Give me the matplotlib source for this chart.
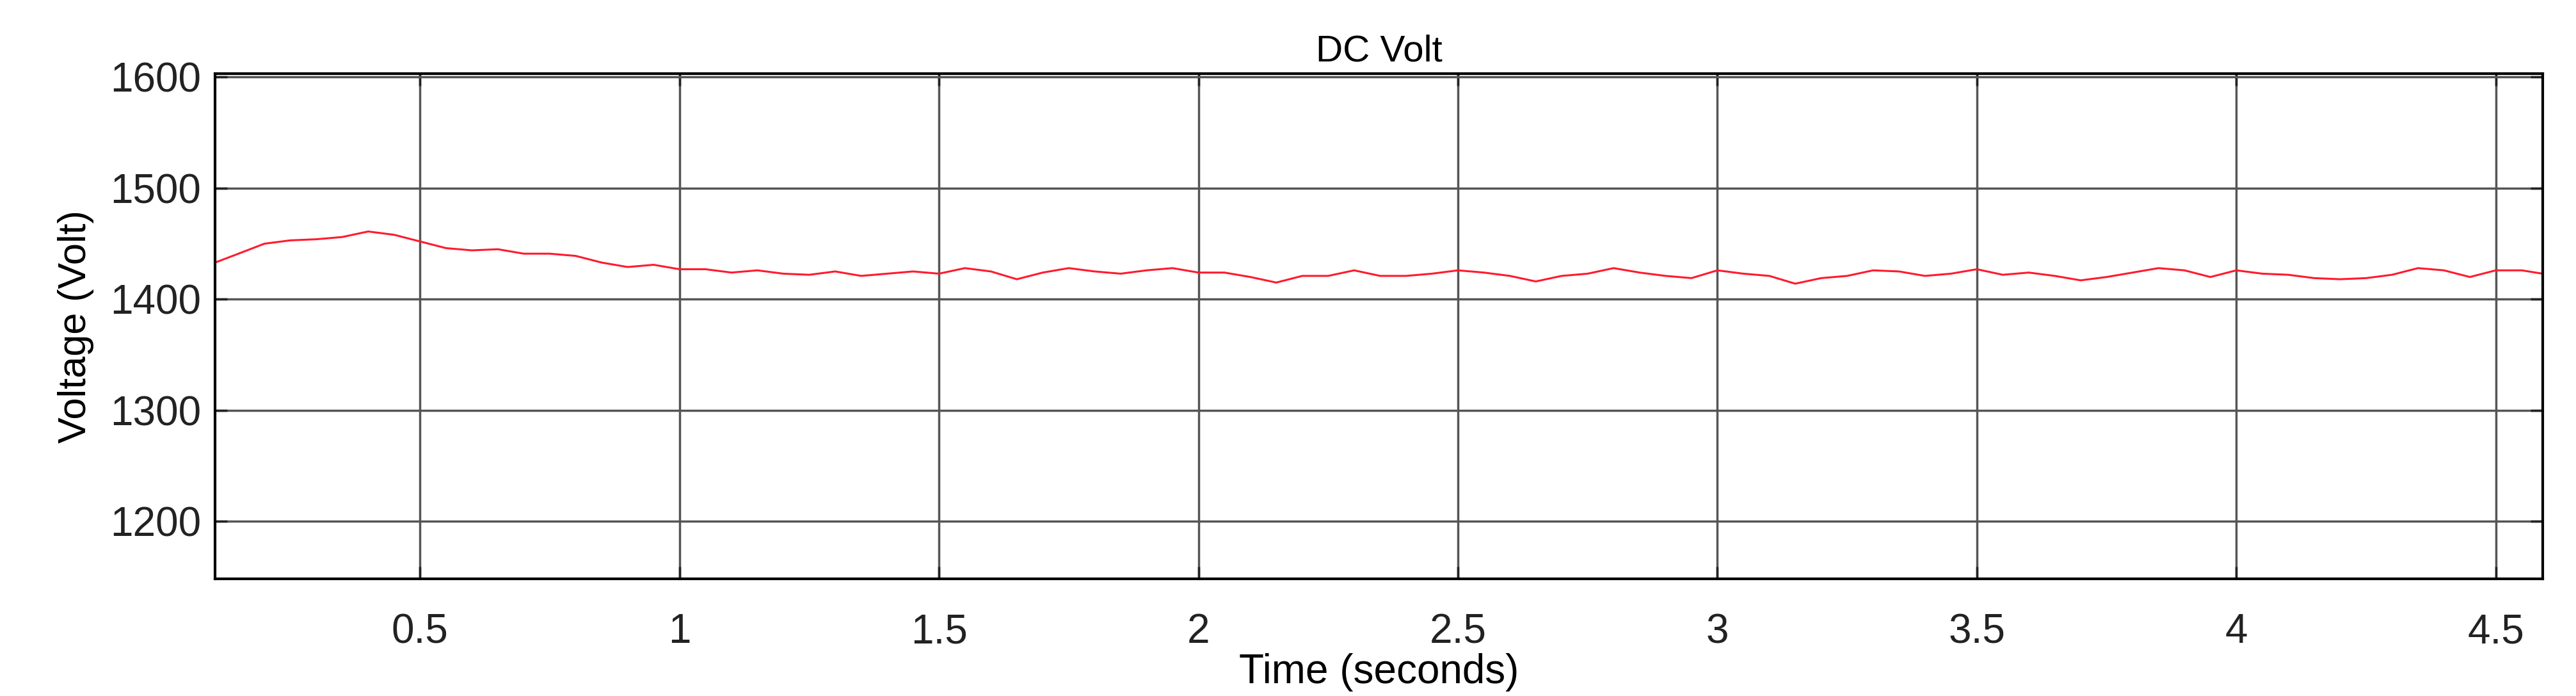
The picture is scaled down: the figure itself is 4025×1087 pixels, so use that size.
import numpy as np
import matplotlib
matplotlib.use('Agg')
import matplotlib.pyplot as plt

plt.rcParams['font.family'] = ['Liberation Sans', 'DejaVu Sans']

# DC link voltage
time_s = [0.105, 0.15, 0.2, 0.25, 0.3, 0.35, 0.4, 0.45, 0.5, 0.55, 0.6, 0.65, 0.7, 0.75, 0.8,
          0.85, 0.9, 0.95, 1.0, 1.05, 1.1, 1.15, 1.2, 1.25, 1.3, 1.35, 1.4, 1.45, 1.5, 1.55,
          1.6, 1.65, 1.7, 1.75, 1.8, 1.85, 1.9, 1.95, 2.0, 2.05, 2.1, 2.15, 2.2, 2.25, 2.3,
          2.35, 2.4, 2.45, 2.5, 2.55, 2.6, 2.65, 2.7, 2.75, 2.8, 2.85, 2.9, 2.95, 3.0, 3.05,
          3.1, 3.15, 3.2, 3.25, 3.3, 3.35, 3.4, 3.45, 3.5, 3.55, 3.6, 3.65, 3.7, 3.75, 3.8,
          3.85, 3.9, 3.95, 4.0, 4.05, 4.1, 4.15, 4.2, 4.25, 4.3, 4.35, 4.4, 4.45, 4.5, 4.55, 4.59]
volt = [1433, 1441, 1450, 1453, 1454, 1456, 1461, 1458, 1452, 1446, 1444, 1445, 1441, 1441, 1439,
        1433, 1429, 1431, 1427, 1427, 1424, 1426, 1423, 1422, 1425, 1421, 1423, 1425, 1423, 1428,
        1425, 1418, 1424, 1428, 1425, 1423, 1426, 1428, 1424, 1424, 1420, 1415, 1421, 1421, 1426,
        1421, 1421, 1423, 1426, 1424, 1421, 1416, 1421, 1423, 1428, 1424, 1421, 1419, 1426, 1423,
        1421, 1414, 1419, 1421, 1426, 1425, 1421, 1423, 1427, 1422, 1424, 1421, 1417, 1420, 1424,
        1428, 1426, 1420, 1426, 1423, 1422, 1419, 1418, 1419, 1422, 1428, 1426, 1420, 1426, 1426, 1423]

xticks = [0.5, 1, 1.5, 2, 2.5, 3, 3.5, 4, 4.5]
xlabels = ['0.5', '1', '1.5', '2', '2.5', '3', '3.5', '4', '4.5']
yticks = [1200, 1300, 1400, 1500, 1600]

fig = plt.figure(figsize=(40.25, 10.87), dpi=100)
ax = fig.add_axes([0.0835, 0.168, 0.9035, 0.726])
ax.plot(time_s, volt, color='#ff1a2e', lw=2.2)
ax.set_xlim(0.105, 4.59)
ax.set_ylim(1148, 1603)
ax.set_xticks(xticks)
ax.set_xticklabels(xlabels)
ax.set_yticks(yticks)
ax.grid(True, color='#555555', lw=2.5)
ax.tick_params(direction='in', length=14, width=2.5, labelsize=46, colors='#222222',
               top=True, right=True)
ax.tick_params(axis='x', pad=38)
ax.tick_params(axis='y', pad=16)
for s in ax.spines.values():
    s.set_linewidth(3)
ax.set_title('DC Volt', fontsize=42, pad=14)
ax.set_xlabel('Time (seconds)', fontsize=46, labelpad=2)
ax.set_ylabel('Voltage (Volt)', fontsize=44, labelpad=18)
fig.savefig('out.png', dpi=100)
